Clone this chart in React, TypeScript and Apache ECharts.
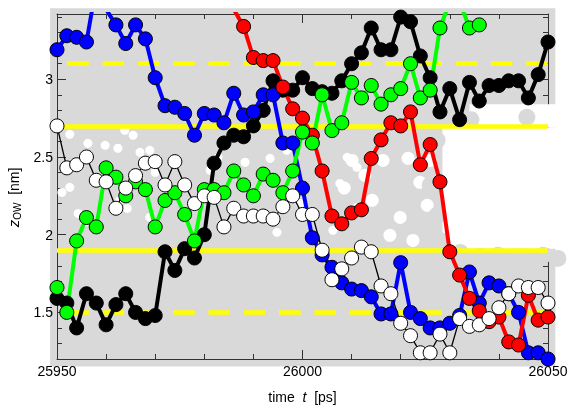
import React, { useEffect, useRef } from 'react';
import * as echarts from 'echarts';

// time axis (ps), one sample every 2 ps
const times = [25950, 25952, 25954, 25956, 25958, 25960, 25962, 25964, 25966, 25968,
  25970, 25972, 25974, 25976, 25978, 25980, 25982, 25984, 25986, 25988,
  25990, 25992, 25994, 25996, 25998, 26000, 26002, 26004, 26006, 26008,
  26010, 26012, 26014, 26016, 26018, 26020, 26022, 26024, 26026, 26028,
  26030, 26032, 26034, 26036, 26038, 26040, 26042, 26044, 26046, 26048, 26050];

const blackZ = [1.59, 1.56, 1.40, 1.62, 1.56, 1.42, 1.55, 1.62, 1.50, 1.46, 1.48,
  1.89, 1.77, 1.91, 1.85, 2.00, 2.46, 2.59, 2.64, 2.63, 2.70,
  2.80, 2.99, 2.93, 2.93, 3.01, 2.94, 2.92, 2.91, 2.99, 3.10,
  3.17, 3.33, 3.19, 3.19, 3.40, 3.37, 3.15, 3.01, 2.79, 2.94,
  2.74, 2.98, 2.86, 2.96, 2.96, 2.99, 2.99, 2.88, 3.03, 3.24];

const blueZ = [3.19, 3.28, 3.27, 3.24, 3.60, 3.45, 3.35, 3.23, 3.35, 3.26, 3.01,
  2.83, 2.82, 2.78, 2.64, 2.78, 2.77, 2.72, 2.91, 2.77, 2.79,
  2.90, 2.90, 2.59, 2.59, 2.30, 1.98, 1.87, 1.79, 1.69, 1.65,
  1.64, 1.60, 1.49, 1.49, 1.82, 1.50, 1.46, 1.40, 1.40, 1.43,
  1.48, 1.76, 1.56, 1.69, 1.67, 1.62, 1.50, 1.24, 1.24, 1.20];

const redZ = [null, null, null, null, null, null, null, null, null, null, null,
  null, null, null, null, null, null, null, 3.45, 3.34, 3.14,
  3.12, 3.12, 2.95, 2.81, 2.75, 2.64, 2.41, 2.12, 2.07, 2.14,
  2.16, 2.49, 2.61, 2.72, 2.70, 2.79, 2.45, 2.58, 2.34, 1.89,
  1.74, 1.59, 1.51, 1.44, 1.47, 1.31, 1.29, 1.61, 1.45, 1.47];

const greenZ = [1.66, 1.50, 1.96, 2.11, 2.05, 2.43, 2.37, 2.25, 2.34, 2.29, 2.05,
  2.22, 2.27, 2.13, 1.96, 2.29, 2.29, 2.27, 2.41, 2.32, 2.25,
  2.39, 2.35, 2.27, 2.41, 2.66, 2.59, 2.90, 2.67, 2.72, 2.98,
  2.88, 2.96, 2.84, 2.90, 2.94, 3.10, 2.88, 2.93, 3.33, 3.50,
  3.50, 3.33, 3.35, null, null, null, null, null, null, null];

const whiteZ = [2.70, 2.43, 2.45, 2.50, 2.35, 2.34, 2.17, 2.30, 2.38, 2.46, 2.47,
  2.32, 2.47, 2.32, 2.20, 2.25, 2.24, 2.05, 2.17, 2.12, 2.12,
  2.12, 2.10, 2.18, 2.25, 2.13, 2.13, 1.90, 1.71, 1.78, 1.85,
  1.92, 1.89, 1.67, 1.62, 1.43, 1.35, 1.24, 1.24, 1.36, 1.24,
  1.46, 1.41, 1.42, 1.46, 1.53, 1.62, 1.67, 1.66, 1.66, 1.56];

// reference levels (nm)
const refLevels = [3.1, 2.7, 1.9, 1.5];
const refDashed = [true, false, false, true];

// axis ticks
const yLabelValues = [1.5, 2, 2.5, 3];
const yMinorValues = [1.3, 1.4, 1.6, 1.7, 1.8, 1.9, 2.1, 2.2, 2.3, 2.4, 2.6, 2.7, 2.8, 2.9, 3.1, 3.2, 3.3, 3.4];

// background cloud of all other molecules: [t0, t1, z0, z1]
const cloudBase = [[25948.6, 26051.5, 1.152, 3.457]];
const cloudGaps = [[26028.5, 26054, 1.91, 2.69], [26034, 26054, 2.69, 2.84]];
// empty spots inside the cloud [t, z]
const gapSpotsLarge = [
  [26016.4, 2.478], [26021.5, 2.491], [26023.9, 2.337], [26025.4, 2.189], [26019.9, 2.111],
  [26022.5, 1.963], [26012.7, 2.382], [26010.1, 2.478], [26014.2, 2.221], [26017.8, 1.996],
  [26026.0, 2.478], [26008.5, 2.30], [26011.0, 2.16]];
const gapSpotsSmall = [
  [25952.6, 2.646], [25963.8, 2.672], [25965.5, 2.639], [25956.3, 2.588], [25959.8, 2.575],
  [25962.4, 2.556], [25966.9, 2.530], [25968.9, 2.543], [25951.0, 2.272], [25952.6, 2.305],
  [25962.8, 2.221], [25964.3, 2.169], [25954.3, 2.137], [25955.7, 2.079], [25968.9, 2.111],
  [25970.0, 2.401], [25981.2, 2.414], [25982.8, 2.498], [25988.3, 2.466], [25993.4, 2.491],
  [25996.8, 2.543], [26009.1, 2.498], [26011.1, 2.433], [26007.6, 2.330], [25999.5, 2.202],
  [26006.2, 2.028], [25994.8, 2.015]];
// cloud molecules at the rim of the empty region [t, z]
const cloudRim = [
  [26045.7, 2.755], [26034.3, 2.74], [26027.4, 2.607], [26025.0, 2.607], [26026.0, 2.317],
  [26027.4, 2.124], [26028.0, 1.963], [26032.1, 1.886], [26036.2, 1.86], [26039.8, 1.867],
  [26044.3, 1.854], [26049.0, 1.867], [26052.0, 1.847]];

const GRAY = '#d9d9d9';
const FONT = 'Liberation Sans';

function rectSeries(name: string, data: number[][], color: string, z: number) {
  return {
    name, type: 'custom', z, silent: true, clip: false,
    data,
    encode: { x: [0, 1], y: [2, 3] },
    renderItem: (_p: any, api: any) => {
      const p0 = api.coord([api.value(0), api.value(3)]);
      const p1 = api.coord([api.value(1), api.value(2)]);
      return {
        type: 'rect',
        shape: { x: p0[0], y: p0[1], width: p1[0] - p0[0], height: p1[1] - p0[1] },
        style: { fill: color },
      };
    },
  };
}

function dots(name: string, data: number[][], color: string, size: number, z: number) {
  return {
    name, type: 'scatter', z, clip: false, silent: true,
    data, symbolSize: size, itemStyle: { color, opacity: 1 },
  };
}

function traj(name: string, vals: (number | null)[], fill: string, lineColor: string, lw: number) {
  return {
    name, type: 'line', z: 5, clip: true,
    data: times.map((t, i) => [t, vals[i]]),
    symbol: 'circle', symbolSize: 14, showSymbol: true,
    lineStyle: { color: lineColor, width: lw },
    itemStyle: { color: fill, borderColor: '#000', borderWidth: 1, opacity: 1 },
    connectNulls: false,
  };
}

export default function App() {
  const ref = useRef<HTMLDivElement>(null);
  useEffect(() => {
    if (!ref.current) return;
    const chart = echarts.init(ref.current, undefined, { renderer: 'svg' });
    const axisLine = { show: true, lineStyle: { color: '#333', width: 1 } };
    const xBase = {
      type: 'value', min: 25950, max: 26050, interval: 50,
      axisLine, splitLine: { show: false },
      axisTick: { inside: true, length: 9, lineStyle: { color: '#333' } },
      minorTick: { show: true, splitNumber: 5, length: 5, lineStyle: { color: '#333' } },
    };
    const yMajor = {
      type: 'value', min: 1.2, max: 3.42,
      axisLine, splitLine: { show: false },
      axisTick: { inside: true, length: 9, customValues: yLabelValues, lineStyle: { color: '#333' } },
    };
    const yMinor = {
      type: 'value', min: 1.2, max: 3.42,
      axisLine: { show: false }, splitLine: { show: false },
      axisLabel: { show: false },
      axisTick: { inside: true, length: 5, customValues: yMinorValues, lineStyle: { color: '#333' } },
    };
    chart.setOption({
      animation: false,
      grid: { left: 57, right: 19, top: 14, bottom: 46, containLabel: false, outerBoundsMode: 'none' },
      xAxis: [
        {
          ...xBase, position: 'bottom',
          name: '{n|time  }{i|t}{n|  [ps]}', nameLocation: 'middle', nameGap: 31,
          nameTextStyle: { rich: { n: { fontFamily: FONT, fontSize: 14, color: '#000' }, i: { fontFamily: FONT, fontSize: 14, fontStyle: 'italic', color: '#000' } } },
          axisLabel: { fontFamily: FONT, fontSize: 14, color: '#000', margin: 5, formatter: (v: number) => String(v) },
        },
        { ...xBase, position: 'top', axisLabel: { show: false } },
      ],
      yAxis: [
        {
          ...yMajor, position: 'left',
          name: '{i|z}{s|OW}{n|  [nm]}', nameLocation: 'middle', nameGap: 29,
          nameTextStyle: {
            padding: [0, 22, 0, 0],
            rich: {
              i: { fontFamily: FONT, fontSize: 15, fontStyle: 'italic', color: '#000' },
              s: { fontFamily: FONT, fontSize: 10, color: '#000', padding: [8, 0, 0, 0] },
              n: { fontFamily: FONT, fontSize: 14, color: '#000' },
            },
          },
          axisLabel: { fontFamily: FONT, fontSize: 14, color: '#000', margin: 4, customValues: yLabelValues, formatter: (v: number) => String(v) },
        },
        { ...yMinor, position: 'left' },
        { ...yMajor, position: 'right', axisLabel: { show: false } },
        { ...yMinor, position: 'right' },
      ],
      series: [
        rectSeries('cloud', cloudBase, GRAY, 0),
        rectSeries('gap', cloudGaps, '#ffffff', 1),
        dots('gapSpotsLarge', gapSpotsLarge, '#ffffff', 13, 1),
        dots('gapSpotsSmall', gapSpotsSmall, '#ffffff', 9, 1),
        dots('cloudRim', cloudRim, GRAY, 17, 2),
        {
          name: 'levels', type: 'line', z: 3, data: [], silent: true,
          markLine: {
            silent: true, symbol: ['none', 'none'], label: { show: false },
            data: refLevels.map((v, i) => ({
              yAxis: v,
              lineStyle: refDashed[i]
                ? { color: '#ffff00', width: 4.5, type: [21.5, 13.8], dashOffset: 25.3 }
                : { color: '#ffff00', width: 4.5, type: 'solid' },
            })),
          },
        },
        traj('black', blackZ, '#000000', '#000000', 4),
        traj('blue', blueZ, '#0000ff', '#0000ff', 4),
        traj('red', redZ, '#ff0000', '#ff0000', 4),
        traj('green', greenZ, '#00ff00', '#00ff00', 4),
        traj('white', whiteZ, '#ffffff', '#000000', 1.3),
      ],
    });
    return () => chart.dispose();
  }, []);
  return <div ref={ref} style={{ position: 'fixed', left: 0, top: 0, width: 567, height: 405 }} />;
}
